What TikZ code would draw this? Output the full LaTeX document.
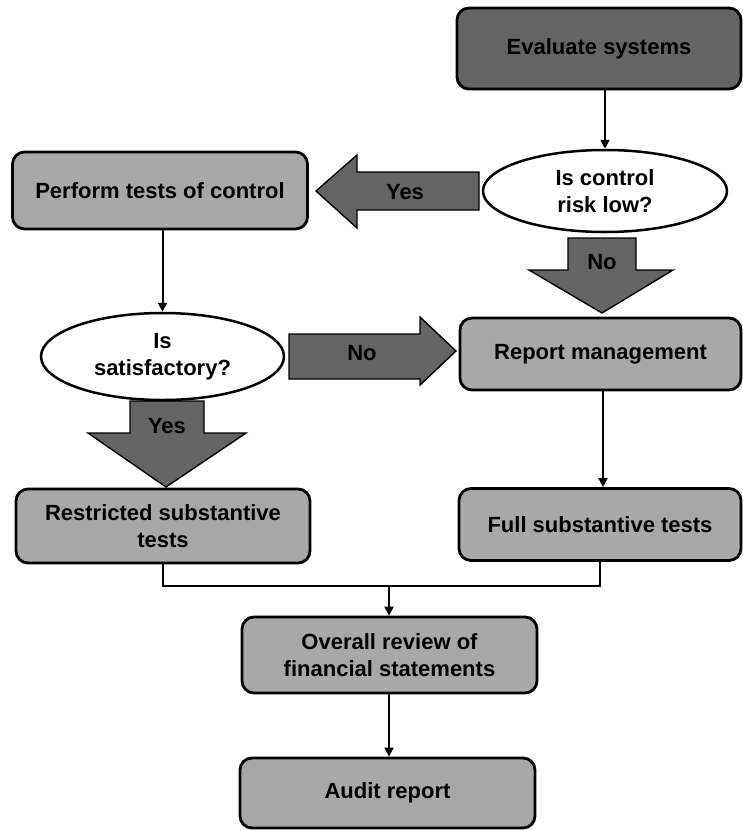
\documentclass[tikz,border=0pt]{standalone}
\usepackage{fontspec}
\setmainfont{Liberation Sans}
\usetikzlibrary{arrows.meta,shapes.geometric}
\definecolor{darkfill}{HTML}{646464}
\definecolor{lightfill}{HTML}{A8A8A8}
\begin{document}
\begin{tikzpicture}[x=1pt,y=-1pt,
  txt/.style={align=center, font=\bfseries\fontsize{22}{27}\selectfont, inner sep=0pt},
  box/.style={txt, draw=black, line width=2.8pt, rounded corners=12pt, fill=lightfill},
  darkbox/.style={box, fill=darkfill},
  question/.style={txt, ellipse, draw=black, line width=2.5pt, fill=white},
  conn/.style={draw=black, line width=2pt, -{Triangle[length=9pt,width=9pt]}},
  mergeline/.style={draw=black, line width=2pt},
  blockarrow/.style={fill=darkfill, draw=black, line width=1.4pt, line join=miter}
]
\useasboundingbox (0,0) rectangle (742,830);

% process boxes
\node[darkbox, minimum width=284, minimum height=81] (eval) at (599,48.5) {Evaluate systems};
\node[box, minimum width=295, minimum height=77] (perform) at (160,190.5) {Perform tests of control};
\node[box, minimum width=281, minimum height=72] (report) at (600.5,354) {Report management};
\node[box, minimum width=294, minimum height=74] (restricted) at (163,526) {Restricted substantive\\tests};
\node[box, minimum width=282, minimum height=72] (full) at (600,524.5) {Full substantive tests};
\node[box, minimum width=295, minimum height=76] (overall) at (389.5,655) {Overall review of\\financial statements};
\node[box, minimum width=295, minimum height=70] (audit) at (387.5,793) {Audit report};

% decisions
\node[question, minimum width=244, minimum height=82] (risk) at (605,191) {Is control\\risk low?};
\node[question, minimum width=243, minimum height=87] (sat) at (162.5,356.5) {Is\\satisfactory?};

% thin connectors
\draw[conn] (eval.south -| risk.north) -- (risk.north);
\draw[conn] (perform.south -| sat.north) -- (sat.north);
\draw[conn] (report.south -| 603,0) -- (full.north -| 603,0);
\coordinate (j) at (389,586);
\draw[mergeline] (restricted.south) |- (j) -| (full.south);
\draw[conn] (j) -- (overall.north -| j);
\draw[conn] (overall.south -| j) -- (audit.north -| j);

% block arrows for the decision outcomes
\draw[blockarrow] (479,172) -- (357,172) -- (357,155) -- (316,191) -- (357,228) -- (357,210) -- (479,210) -- cycle;
\node[txt] (yes1) at (405,192) {Yes};

\draw[blockarrow] (568,238) -- (636,238) -- (636,270) -- (673,270) -- (602,313) -- (529,270) -- (568,270) -- cycle;
\node[txt] (no1) at (602,262) {No};

\draw[blockarrow] (289,334) -- (420,334) -- (420,317) -- (456,351) -- (420,385) -- (420,379) -- (289,379) -- cycle;
\node[txt] (no2) at (362,353) {No};

\draw[blockarrow] (130,401) -- (204,401) -- (204,433) -- (246,433) -- (166,487) -- (88,433) -- (130,433) -- cycle;
\node[txt] (yes2) at (167,426) {Yes};
\end{tikzpicture}
\end{document}
